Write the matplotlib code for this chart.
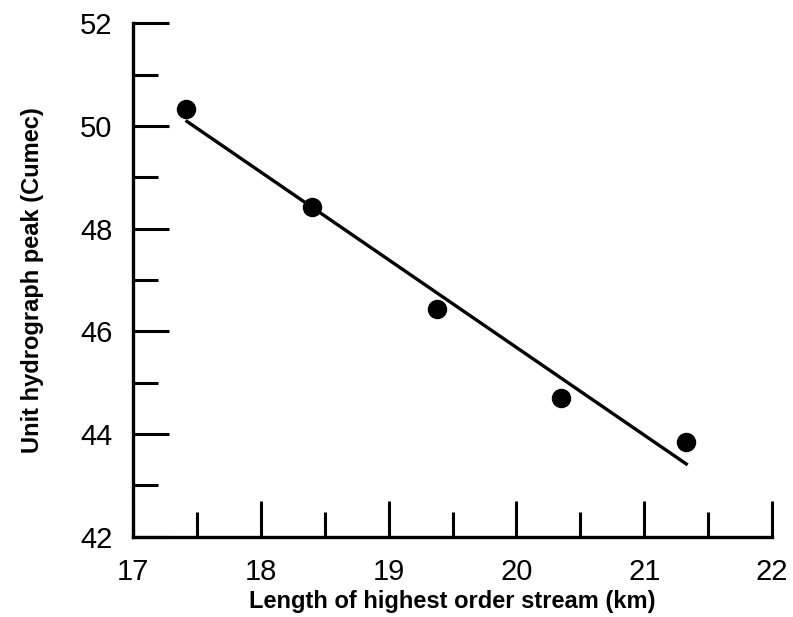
import numpy as np
import matplotlib
matplotlib.use('Agg')
import matplotlib.pyplot as plt
from matplotlib.ticker import MultipleLocator

# ---------------- Data ----------------
stream_length = [17.41, 18.40, 19.38, 20.35, 21.33]   # km
uh_peak = [50.34, 48.43, 46.43, 44.70, 43.84]          # cumec

# fitted line end points
fit_x = [17.41, 21.34]
fit_y = [50.11, 43.40]

x_ticks = [17, 18, 19, 20, 21, 22]
y_ticks = [42, 44, 46, 48, 50, 52]

# ---------------- Figure ----------------
plt.rcParams['font.family'] = ['Liberation Sans', 'DejaVu Sans']
fig = plt.figure(figsize=(7.93, 6.17), dpi=100)
ax1 = fig.add_axes([0.168, 0.130, 0.8055, 0.832])

ax1.plot(fit_x, fit_y, c='k', lw=2.4, solid_capstyle='butt')
ax1.plot(stream_length, uh_peak, 'o', c='k', ms=13)

ax1.set_xlim(17, 22)
ax1.set_ylim(42, 52)
ax1.set_xticks(x_ticks)
ax1.set_yticks(y_ticks)
ax1.xaxis.set_minor_locator(MultipleLocator(0.5))
ax1.yaxis.set_minor_locator(MultipleLocator(1))

for axis in ['top', 'right']:
    ax1.spines[axis].set_visible(False)
for axis in ['left', 'bottom']:
    ax1.spines[axis].set_linewidth(2.4)

ax1.tick_params(axis='both', which='major', direction='in', length=26, width=2.2,
                labelsize=21)
ax1.tick_params(axis='both', which='minor', direction='in', length=18, width=2.2)
ax1.tick_params(axis='y', which='major', pad=15)
ax1.tick_params(axis='x', which='major', pad=15)

ax1.set_xlabel('Length of highest order stream (km)', fontsize=17, fontweight='bold', labelpad=3)
ax1.set_ylabel('Unit hydrograph peak (Cumec)', fontsize=17, fontweight='bold', labelpad=26)

plt.savefig('out.png', dpi=100)
